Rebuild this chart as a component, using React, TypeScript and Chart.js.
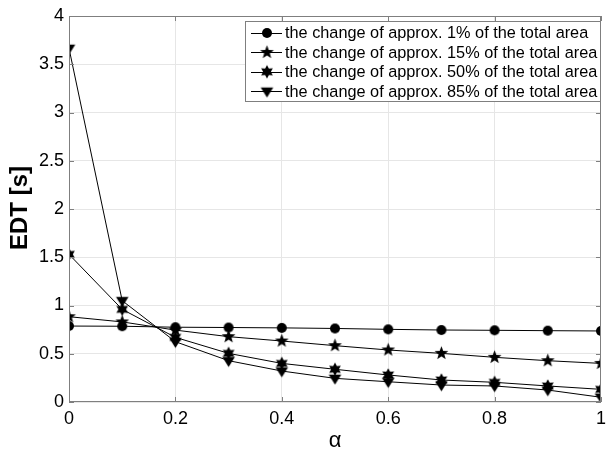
import React, { useEffect, useRef } from "react";
import { Chart, registerables } from "chart.js";
Chart.register(...registerables);

const alphaValues = [0, 0.1, 0.2, 0.3, 0.4, 0.5, 0.6, 0.7, 0.8, 0.9, 1];
const series1 = [0.787, 0.785, 0.775, 0.772, 0.768, 0.762, 0.753, 0.746, 0.743, 0.739, 0.736];
const series2 = [0.884, 0.83, 0.745, 0.677, 0.632, 0.584, 0.539, 0.504, 0.463, 0.428, 0.4];
const series3 = [1.53, 0.96, 0.67, 0.504, 0.4, 0.339, 0.28, 0.228, 0.204, 0.166, 0.131];
const series4 = [3.665, 1.05, 0.625, 0.428, 0.321, 0.245, 0.21, 0.176, 0.166, 0.124, 0.049];
const seriesLabels = [
  "the change of approx. 1% of the total area",
  "the change of approx. 15% of the total area",
  "the change of approx. 50% of the total area",
  "the change of approx. 85% of the total area",
];
const xTicks = [0, 0.2, 0.4, 0.6, 0.8, 1];
const yTicks = [0, 0.5, 1, 1.5, 2, 2.5, 3, 3.5, 4];

const FONT = "'Liberation Sans', Arial, sans-serif";

function makeStar(points: number, outer: number, inner: number): HTMLCanvasElement {
  const size = Math.ceil(outer * 2 + 2);
  const c = document.createElement("canvas");
  c.width = size;
  c.height = size;
  const ctx = c.getContext("2d")!;
  const cx = size / 2, cy = size / 2;
  ctx.beginPath();
  for (let i = 0; i < points * 2; i++) {
    const r = i % 2 === 0 ? outer : inner;
    const a = -Math.PI / 2 + (i * Math.PI) / points;
    const px = cx + r * Math.cos(a), py = cy + r * Math.sin(a);
    if (i === 0) ctx.moveTo(px, py);
    else ctx.lineTo(px, py);
  }
  ctx.closePath();
  ctx.fillStyle = "#000";
  ctx.fill();
  return c;
}

function makeCircle(r: number): HTMLCanvasElement {
  const size = Math.ceil(r * 2 + 2);
  const c = document.createElement("canvas");
  c.width = size;
  c.height = size;
  const ctx = c.getContext("2d")!;
  ctx.beginPath();
  ctx.arc(size / 2, size / 2, r, 0, Math.PI * 2);
  ctx.fillStyle = "#000";
  ctx.fill();
  return c;
}

function makeTriDown(r: number): HTMLCanvasElement {
  const size = Math.ceil(r * 2 + 2);
  const c = document.createElement("canvas");
  c.width = size;
  c.height = size;
  const ctx = c.getContext("2d")!;
  const cx = size / 2, cy = size / 2;
  ctx.beginPath();
  ctx.moveTo(cx - r, cy - r * 0.6);
  ctx.lineTo(cx + r, cy - r * 0.6);
  ctx.lineTo(cx, cy + r);
  ctx.closePath();
  ctx.fillStyle = "#000";
  ctx.fill();
  return c;
}

export default function App() {
  const ref = useRef<HTMLCanvasElement>(null);
  useEffect(() => {
    document.body.style.margin = "0";
    const markers = [makeCircle(5), makeStar(5, 7.2, 3), makeStar(6, 6.8, 3.8), makeTriDown(6.3)];
    const datasets = [series1, series2, series3, series4].map((s, i) => ({
      label: seriesLabels[i],
      data: s.map((v, j) => ({ x: alphaValues[j], y: v })),
      borderColor: "#000",
      backgroundColor: "#000",
      borderWidth: 1,
      pointStyle: markers[i] as any,
      pointRadius: 5,
      tension: 0,
    }));

    const L = 69, R = 608, T = 16, B = 402;

    const deco = {
      id: "deco",
      afterDraw(chart: any) {
        const ctx = chart.ctx as CanvasRenderingContext2D;
        const a = chart.chartArea;
        const xs = chart.scales.x, ys = chart.scales.y;
        ctx.save();
        ctx.strokeStyle = "#7f7f7f";
        ctx.lineWidth = 1;
        ctx.strokeRect(Math.round(a.left) + 0.5, Math.round(a.top) + 0.5, Math.round(a.right - a.left) - 1, Math.round(a.bottom - a.top) - 1);
        ctx.beginPath();
        for (const t of xTicks) {
          const px = Math.round(xs.getPixelForValue(t)) + 0.5;
          ctx.moveTo(px, a.bottom);
          ctx.lineTo(px, a.bottom - 5);
          ctx.moveTo(px, a.top);
          ctx.lineTo(px, a.top + 5);
        }
        for (const t of yTicks) {
          const py = Math.round(ys.getPixelForValue(t)) + 0.5;
          ctx.moveTo(a.left, py);
          ctx.lineTo(a.left + 5, py);
          ctx.moveTo(a.right, py);
          ctx.lineTo(a.right - 5, py);
        }
        ctx.stroke();

        // axis titles
        ctx.fillStyle = "#000";
        ctx.font = `22px ${FONT}`;
        ctx.textAlign = "center";
        ctx.textBaseline = "middle";
        ctx.fillText("α", (a.left + a.right) / 2, 441);
        ctx.save();
        ctx.translate(20, 208);
        ctx.rotate(-Math.PI / 2);
        ctx.font = `bold 24px ${FONT}`;
        ctx.fillText("EDT [s]", 0, 0);
        ctx.restore();

        // legend
        const bx = 245, by = 21, bw = 355, bh = 80;
        ctx.fillStyle = "#fff";
        ctx.fillRect(bx, by, bw, bh);
        ctx.strokeStyle = "#7f7f7f";
        ctx.strokeRect(bx + 0.5, by + 0.5, bw, bh);
        ctx.font = `16.3px ${FONT}`;
        ctx.textAlign = "left";
        ctx.textBaseline = "middle";
        chart.data.datasets.forEach((ds: any, i: number) => {
          const cy = 33 + i * 19.4;
          ctx.strokeStyle = "#000";
          ctx.beginPath();
          ctx.moveTo(251, Math.round(cy) + 0.5);
          ctx.lineTo(282, Math.round(cy) + 0.5);
          ctx.stroke();
          const m = markers[i];
          ctx.drawImage(m, 267 - m.width / 2, cy - m.height / 2);
          ctx.fillStyle = "#000";
          ctx.fillText(ds.label, 285, cy + 1);
        });
        ctx.restore();
      },
    };

    const chart = new Chart(ref.current!, {
      type: "line",
      data: { datasets },
      options: {
        animation: false,
        responsive: false,
        layout: { padding: { left: 0, right: 612 - R, top: T, bottom: 0 } },
        plugins: { legend: { display: false }, tooltip: { enabled: false } },
        scales: {
          x: {
            type: "linear",
            min: 0,
            max: 1,
            afterFit: (s: any) => { s.height = 450 - B; },
            afterBuildTicks: (s: any) => { s.ticks = xTicks.map((v) => ({ value: v })); },
            ticks: {
              color: "#000",
              font: { family: FONT, size: 18 },
              padding: 6,
              maxRotation: 0,
              callback: (v: any) => String(v),
            },
            grid: { color: "#e6e6e6", drawTicks: false },
            border: { display: false },
          },
          y: {
            type: "linear",
            min: 0,
            max: 4,
            afterFit: (s: any) => { s.width = L; },
            afterBuildTicks: (s: any) => { s.ticks = yTicks.map((v) => ({ value: v })); },
            ticks: {
              color: "#000",
              font: { family: FONT, size: 18 },
              padding: 5,
              callback: (v: any) => String(v),
            },
            grid: { color: "#e6e6e6", drawTicks: false },
            border: { display: false },
          },
        },
      },
      plugins: [deco],
    });
    return () => chart.destroy();
  }, []);
  return <canvas ref={ref} width={612} height={450} style={{ display: "block" }} />;
}
